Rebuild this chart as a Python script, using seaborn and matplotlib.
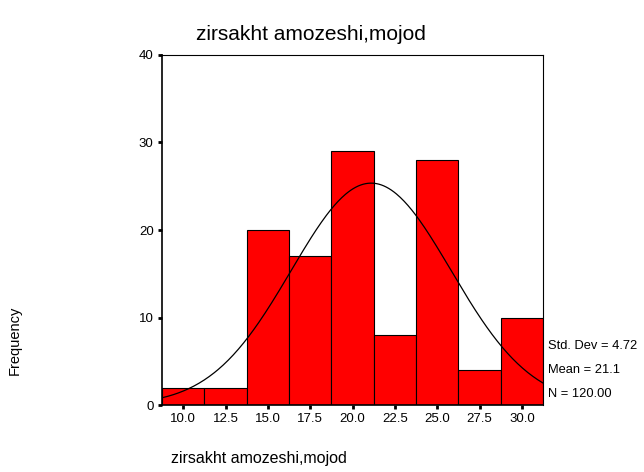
import numpy as np
import seaborn as sns
import matplotlib.pyplot as plt

# histogram data
bin_centers = [10.0, 12.5, 15.0, 17.5, 20.0, 22.5, 25.0, 27.5, 30.0]
counts = [2, 2, 20, 17, 29, 8, 28, 4, 10]
bin_width = 2.5
std_dev = 4.72
mean = 21.1
n_total = 120
var_label = "zirsakht amozeshi,mojod"

sns.set_style("white")
plt.rcParams['font.family'] = ['Liberation Sans', 'DejaVu Sans']
plt.rcParams['text.color'] = 'black'
plt.rcParams['xtick.color'] = 'black'
plt.rcParams['ytick.color'] = 'black'

fig = plt.figure(figsize=(6.44, 4.72), dpi=100)
ax = fig.add_axes([0.2516, 0.1419, 0.5916, 0.7416])

edges = [c - bin_width / 2 for c in bin_centers] + [bin_centers[-1] + bin_width / 2]
sns.histplot(x=bin_centers, weights=counts, bins=edges, ax=ax,
             color='#ff0000', edgecolor='black', linewidth=0.8, alpha=1)

# normal curve scaled to counts
xs = np.linspace(edges[0], edges[-1], 300)
ys = n_total * bin_width / (std_dev * np.sqrt(2 * np.pi)) * np.exp(-0.5 * ((xs - mean) / std_dev) ** 2)
sns.lineplot(x=xs, y=ys, ax=ax, color='black', linewidth=0.9)

ax.set_xlim(edges[0], edges[-1])
ax.set_ylim(0, 40)
ax.set_xticks(bin_centers)
ax.set_xticklabels([f"{c:.1f}" for c in bin_centers], fontsize=9.5)
ax.set_yticks([0, 10, 20, 30, 40])
ax.set_yticklabels(["0", "10", "20", "30", "40"], fontsize=9.5)
ax.tick_params(axis='both', direction='out', length=3, width=2, color='black',
               bottom=True, left=True, pad=3)
for sp in ax.spines.values():
    sp.set_visible(True)
    sp.set_color('black')
    sp.set_linewidth(0.8)
ax.spines['left'].set_linewidth(1.2)
ax.spines['bottom'].set_linewidth(1.2)
ax.set_xlabel("")
ax.set_ylabel("")

fig.text(311 / 644, 1 - 35 / 472, var_label, ha='center', va='center', fontsize=15)
fig.text(259 / 644, 1 - 458 / 472, var_label, ha='center', va='center', fontsize=11.5)
fig.text(15 / 644, 1 - 340 / 472, "Frequency", ha='center', va='center', rotation=90, fontsize=10.5)

stats = [f"Std. Dev = {std_dev:.2f}", f"Mean = {mean:.1f}", f"N = {n_total:.2f}"]
for i, s in enumerate(stats):
    fig.text(548 / 644, 1 - (346 + 24 * i) / 472, s, ha='left', va='center', fontsize=9.3)

fig.savefig("out.png", dpi=100)
